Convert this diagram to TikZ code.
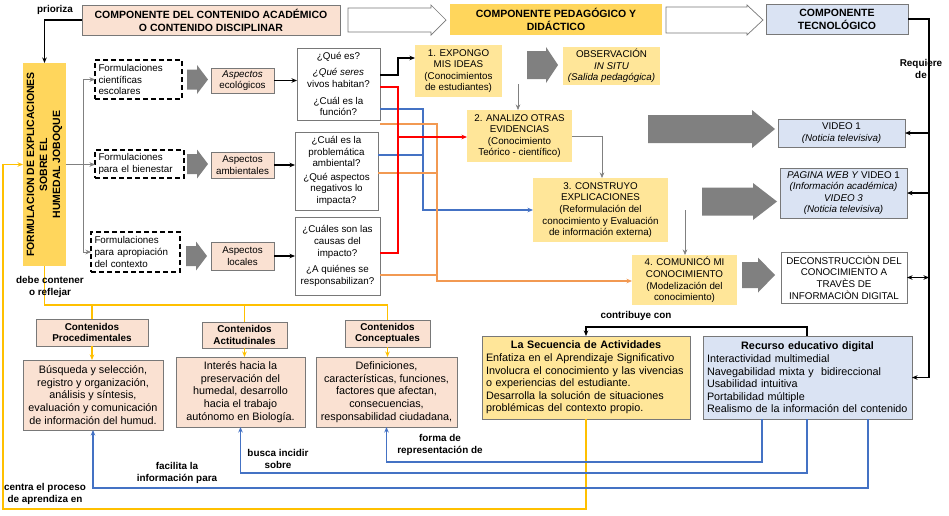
\documentclass[tikz,border=0pt]{standalone}
\usepackage{fontspec}
\setmainfont{Liberation Sans}
\usetikzlibrary{arrows.meta,calc}
\definecolor{peach}{RGB}{250,225,210}
\definecolor{gold}{RGB}{255,214,92}
\definecolor{lyel}{RGB}{255,230,153}
\definecolor{lblue}{RGB}{218,227,243}
\definecolor{bgray}{RGB}{120,120,120}
\definecolor{agray}{RGB}{128,128,128}
\definecolor{ylin}{RGB}{255,192,0}
\definecolor{blin}{RGB}{68,114,196}
\definecolor{olin}{RGB}{242,153,82}
\definecolor{rlin}{RGB}{255,0,0}
\newcommand\fA{\fontsize{9.8}{11.6}\selectfont}
\newcommand\fH{\fontsize{10.5}{13}\selectfont\bfseries}
\newcommand\fL{\fontsize{10.8}{12.6}\selectfont}
\newcommand\fS{\fontsize{9.9}{11.2}\selectfont\bfseries}
\newcommand\BX[7]{\node[#1, minimum width={#5-#3}, minimum height={#6-#4}] (#2) at ({(#3+#5)/2},{(#4+#6)/2}) {#7};}
\newcommand\GA[7]{\path[#7] ({#1},{#3-#5}) -- ({#2-#6},{#3-#5}) -- ({#2-#6},{#3-#4}) -- ({#2},{#3}) -- ({#2-#6},{#3+#4}) -- ({#2-#6},{#3+#5}) -- ({#1},{#3+#5}) -- cycle;}
\tikzset{
 nbox/.style={draw=bgray, line width=0.7pt, inner sep=0pt, outer sep=0pt, align=center, font=\fA},
 pbox/.style={nbox, fill=peach},
 ybox/.style={nbox, draw=none, fill=lyel},
 gbox/.style={nbox, draw=none, fill=gold},
 bbox/.style={nbox, fill=lblue},
 wbox/.style={nbox, fill=white},
 dbox/.style={nbox, draw=black, line width=1.4pt, dash pattern=on 5pt off 3pt, align=left},
 arrowend/.style={-{Stealth[length=5.5pt,width=4.5pt]}},
 arrowboth/.style={{Stealth[length=5.5pt,width=4.5pt]}-{Stealth[length=5.5pt,width=4.5pt]}},
 kline/.style={draw=black, line width=1.1pt},
 gline/.style={draw=agray, line width=0.6pt},
 rline/.style={draw=rlin, line width=1.6pt},
 bline/.style={draw=blin, line width=1.3pt},
 oline/.style={draw=olin, line width=1.5pt},
 yline/.style={draw=ylin, line width=1.4pt},
 lbl/.style={font=\fS, align=center, inner sep=0pt},
 harrow/.style={draw=bgray, fill=white, line width=0.7pt},
 garrow/.style={fill=agray},
}
\begin{document}
\begin{tikzpicture}[x=1pt,y=-1pt]
\fill[white] (0,0) rectangle (949,515);
\useasboundingbox (0,0) rectangle (949,515);

% ---------- header ----------
\BX{pbox,font=\fH}{H1}{82}{5}{340}{35}{COMPONENTE DEL CONTENIDO ACADÉMICO\\O CONTENIDO DISCIPLINAR}
\GA{348}{446}{20}{15}{12}{15}{harrow}
\BX{gbox,font=\fH}{H2}{450}{4}{662}{35}{COMPONENTE PEDAGÓGICO Y\\DIDÁCTICO}
\GA{666}{763}{20}{15}{13}{16}{harrow}
\BX{bbox,font=\fH}{H3}{766}{4}{908}{34}{COMPONENTE\\TECNOLÓGICO}
\node[lbl] (tprio) at (55,10) {prioriza};

% ---------- left column ----------
\BX{gbox}{F}{23}{63}{66}{266}{}
\node[rotate=90, font=\fH, align=center] (Ft) at (F) {FORMULACION DE EXPLICACIONES\\SOBRE EL\\HUMEDAL JOBOQUE};

\BX{dbox,text width=80pt}{D1}{95}{60}{182}{99}{Formulaciones\\científicas\\escolares}
\BX{dbox,text width=82pt}{D2}{95}{150}{184}{178}{Formulaciones\\para el bienestar}
\BX{dbox,text width=82pt}{D3}{91}{232}{180}{272}{Formulaciones\\para apropiación\\del contexto}

\GA{187}{208}{79.5}{14.5}{10}{11}{garrow}
\GA{187}{208}{164}{14.5}{10}{11}{garrow}
\GA{186}{207}{256}{14.5}{10}{11}{garrow}

\BX{pbox}{A1}{211}{68}{274}{93}{\textit{Aspectos}\\ecológicos}
\BX{pbox}{A2}{211}{152}{274}{178}{Aspectos\\ambientales}
\BX{pbox}{A3}{211}{242}{274}{270}{Aspectos\\locales}

\BX{wbox}{Q1}{297}{48}{380}{120}{¿Qué es?\\[5pt]\textit{¿Qué seres}\\vivos habitan?\\[5pt]¿Cuál es la\\función?}
\BX{wbox}{Q2}{295}{132}{378}{210}{¿Cuál es la\\problemática\\ambiental?\\[2pt]¿Qué aspectos\\negativos lo\\impacta?}
\BX{wbox}{Q3}{295}{217}{380}{295}{¿Cuáles son las\\causas del\\impacto?\\[5pt]¿A quiénes se\\responsabilizan?}

% ---------- middle ----------
\BX{ybox}{B1}{415}{45}{502}{97}{1. EXPONGO\\MIS IDEAS\\(Conocimientos\\de estudiantes)}
\GA{527}{558}{65}{18}{14}{12}{garrow}
\BX{ybox}{OBS}{563}{47}{660}{85}{OBSERVACIÓN\\\textit{IN SITU}\\\textit{(Salida pedagógica)}}
\BX{ybox}{B2}{467}{110}{572}{162}{2. ANALIZO OTRAS\\EVIDENCIAS\\(Conocimiento\\Teórico - científico)}
\BX{ybox}{B3}{533}{178}{668}{242}{3. CONSTRUYO\\EXPLICACIONES\\(Reformulación del\\conocimiento y Evaluación\\de información externa)}
\BX{ybox}{B4}{632}{255}{737}{305}{4. COMUNICÓ MI\\CONOCIMIENTO\\(Modelización del\\conocimiento)}

% ---------- right ----------
\GA{648}{775}{129}{19}{14}{23}{garrow}
\BX{bbox}{V1}{778}{119}{905}{147}{VIDEO 1\\\textit{(Noticia televisiva)}}
\GA{702}{777}{201.5}{18.5}{14}{24}{garrow}
\BX{bbox}{V2}{780}{168}{907}{218}{\textit{PAGINA WEB Y} VIDEO 1\\\textit{(Información académica)}\\\textit{VIDEO 3}\\\textit{(Noticia televisiva)}}
\GA{742}{775}{275}{17.5}{13}{17}{garrow}
\BX{wbox}{DEC}{781}{252}{907}{303}{DECONSTRUCCIÒN DEL\\CONOCIMIENTO A\\TRAVÈS DE\\INFORMACIÒN DIGITAL}
\node[lbl] (treq) at (921,69) {Requiere\\de};

% ---------- bottom ----------
\BX{pbox,font=\fS}{CP}{36}{319}{148}{346}{Contenidos\\Procedimentales}
\BX{pbox,font=\fS}{CA}{202}{322}{287}{348}{Contenidos\\Actitudinales}
\BX{pbox,font=\fS}{CC}{345}{320}{430}{347}{Contenidos\\Conceptuales}
\BX{pbox,font=\fL}{DP}{23}{360}{163}{430}{Búsqueda y selección,\\registro y organización,\\análisis y síntesis,\\evaluación y comunicación\\de información del humud.}
\BX{pbox,font=\fL}{DA}{176}{357}{305}{427}{Interés hacia la\\preservación del\\humedal, desarrollo\\hacia el trabajo\\autónomo en Biología.}
\BX{pbox,font=\fL}{DC}{316}{357}{457}{427}{Definiciones,\\características, funciones,\\factores que afectan,\\consecuencias,\\responsabilidad ciudadana,}
\BX{ybox,draw=bgray,font=\fL,align=left,text width=200pt}{SEQ}{482}{336}{690}{419}{\makebox[200pt][c]{\bfseries La Secuencia de Actividades}\\Enfatiza en el Aprendizaje Significativo\\Involucra el conocimiento y las vivencias\\o experiencias del estudiante.\\Desarrolla la solución de situaciones\\problémicas del contexto propio.}
\BX{bbox,font=\fL,align=left,text width=201pt}{REC}{703}{336}{912}{419}{\makebox[201pt][c]{\bfseries Recurso educativo digital}\\Interactividad multimedial\\Navegabilidad mixta y~ bidireccional\\Usabilidad intuitiva\\Portabilidad múltiple\\Realismo de la información del contenido}

% ---------- connectors ----------
\draw[kline,arrowend] (H1.west) -| (F.north);
\coordinate (br) at (83,164.5);
\draw[gline] (F.east) -- (F.east -| br);
\draw[gline,arrowend] (br) -- (br -| D2.west);
\draw[gline,arrowend] (br) |- (D1.west);
\draw[gline,arrowend] (br) |- (D3.west);

\draw[kline,arrowend] (A1.east) -- (A1.east -| Q1.west);
\draw[kline,arrowend] (A2.east) -- (A2.east -| Q2.west);
\draw[kline,arrowend] (A3.east) -- (A3.east -| Q3.west);

\draw[kline,arrowend] (Q1.east |- 0,75) -| (398,58) -- (B1.west |- 0,58);

\draw[bline,arrowend] (Q1.east |- 0,109) -| (423,210) -- (B3.west |- 0,210);
\draw[bline] (Q2.east |- 0,155) -- (423,155);
\draw[oline,arrowend] (Q1.east |- 0,124) -| (437,281) -- (B4.west |- 0,281);
\draw[oline] (Q2.east |- 0,173) -- (437,173);
\draw[oline] (Q3.east |- 0,275) -- (437,275);
\draw[rline] (Q1.east |- 0,87) -| (398,253) -- (Q3.east |- 0,253);
\coordinate (rj) at (398,137);
\draw[rline,arrowend] (rj) -- (rj -| B2.west);

\coordinate (c12) at (518,84);
\draw[gline,arrowend] (c12) -- (c12 |- B2.north);
\coordinate (c23) at (602,0);
\draw[gline,arrowend] (B2.east) -| (B3.north -| c23);
\coordinate (c34) at (685,210);
\draw[gline,arrowend] (c34) -- (c34 |- B4.north);

\coordinate (rv) at (929,0);
\draw[kline,arrowend] (H3.east) -| (REC.east -| rv) -- (REC.east);
\draw[kline,arrowend] (V1.east -| rv) -- (V1.east);
\draw[kline,arrowend] (V2.east -| rv) -- (V2.east);
\draw[kline,arrowboth] (DEC.east -| rv) -- (DEC.east);

\coordinate (cc) at (807,0);
\draw[kline,arrowend] (REC.north -| cc) |- ($(SEQ.north)+(0,-9)$) -- (SEQ.north);
\node[lbl] (tcon) at (636,316) {contribuye con};

\coordinate (yj) at (44.5,305);
\draw[yline] (F.south) -- (yj) -| (CC.north);
\draw[yline] (CP.north |- yj) -- (CP.north);
\draw[yline] (CA.north |- yj) -- (CA.north);
\draw[yline,arrowend] (CP.south) -- (CP.south |- DP.north);
\draw[yline,arrowend] (CA.south) -- (CA.south |- DA.north);
\draw[yline,arrowend] (CC.south) -- (CC.south |- DC.north);
\coordinate (yl) at (3,509);
\draw[yline,arrowend] (SEQ.south) |- (yl) |- (F.west);
\node[lbl] (tdeb) at (50,287) {debe contener\\o reflejar};

\coordinate (bx1) at (762,0);
\coordinate (bx2) at (807,0);
\coordinate (bx3) at (868,0);
\draw[bline,arrowend] (REC.south -| bx1) |- ($(DC.south)+(0,35)$) -- (DC.south);
\draw[bline,arrowend] (REC.south -| bx2) |- ($(DA.south)+(0,46)$) -- (DA.south);
\draw[bline,arrowend] (REC.south -| bx3) |- ($(DP.south)+(0,58)$) -- (DP.south);

\node[lbl] (tfor) at (440,445) {forma de\\representación de};
\node[lbl] (tbus) at (278,459) {busca incidir\\sobre};
\node[lbl] (tfac) at (177,473) {facilita la\\información para};
\node[lbl] (tcen) at (45,494) {centra el proceso\\de aprendiza en};
\end{tikzpicture}
\end{document}
